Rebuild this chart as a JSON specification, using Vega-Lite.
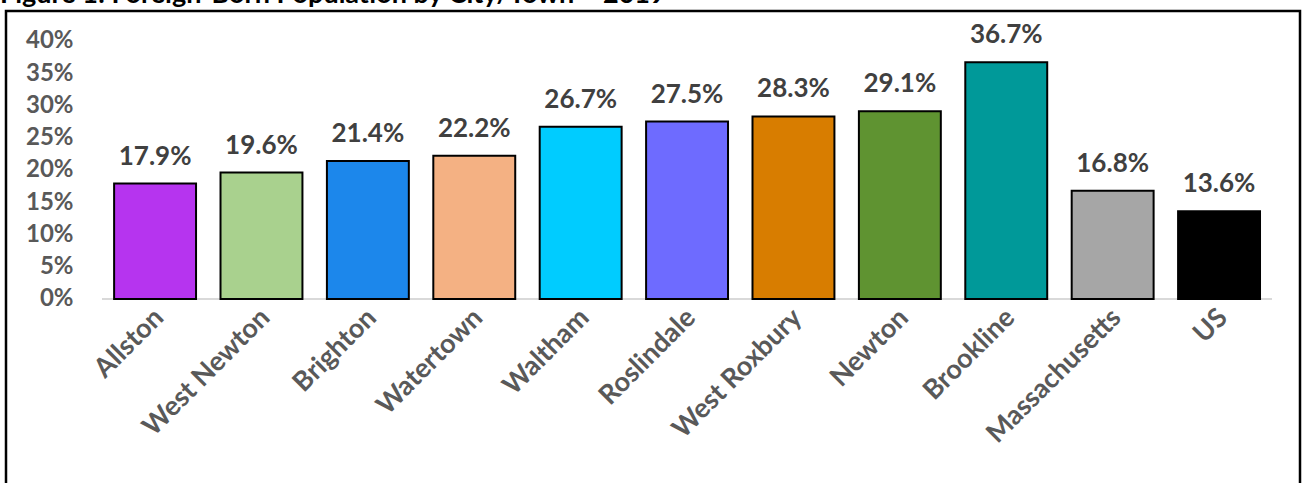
{
  "$schema": "https://vega.github.io/schema/vega-lite/v6.json",
  "autosize": "none",
  "width": 1294,
  "height": 474,
  "padding": {"left": 6, "top": 11, "right": 3, "bottom": -2},
  "background": "white",
  "title": {
    "text": "Figure 1: Foreign-Born Population by City/Town – 2019",
    "anchor": "start",
    "frame": "group",
    "font": "Lato",
    "fontSize": 27,
    "fontWeight": "bold",
    "color": "black",
    "baseline": "alphabetic",
    "offset": -19,
    "dx": -6
  },
  "config": {"view": {"stroke": "black", "strokeWidth": 2.5}, "font": "Lato"},
  "data": {
    "values": [
      {"place": "Allston", "pct": 0.179},
      {"place": "West Newton", "pct": 0.196},
      {"place": "Brighton", "pct": 0.214},
      {"place": "Watertown", "pct": 0.222},
      {"place": "Waltham", "pct": 0.267},
      {"place": "Roslindale", "pct": 0.275},
      {"place": "West Roxbury", "pct": 0.283},
      {"place": "Newton", "pct": 0.291},
      {"place": "Brookline", "pct": 0.367},
      {"place": "Massachusetts", "pct": 0.168},
      {"place": "US", "pct": 0.136}
    ]
  },
  "encoding": {
    "x": {
      "field": "place",
      "type": "nominal",
      "sort": null,
      "scale": {
        "domain": ["Allston", "West Newton", "Brighton", "Watertown", "Waltham", "Roslindale", "West Roxbury", "Newton", "Brookline", "Massachusetts", "US"],
        "paddingInner": 0.23,
        "paddingOuter": 0.696,
        "align": 0.73
      },
      "axis": {
        "title": null,
        "labelAngle": -45,
        "offset": -186,
        "domain": false,
        "ticks": false,
        "labelPadding": 5,
        "labelOffset": -5,
        "labelFont": "Lato",
        "labelFontSize": 27,
        "labelFontWeight": "bold",
        "labelColor": "#595959"
      }
    }
  },
  "layer": [
    {
      "mark": {"type": "rule", "color": "#d9d9d9", "strokeWidth": 2},
      "encoding": {
        "x": {"datum": "Allston", "bandPosition": -0.146},
        "x2": {"datum": "US", "bandPosition": 1.146},
        "y": {"datum": 0, "type": "quantitative"}
      }
    },
    {
      "mark": {"type": "bar", "stroke": "black", "strokeWidth": 2},
      "encoding": {
        "y": {
          "field": "pct",
          "type": "quantitative",
          "scale": {"domain": [-0.2884, 0.4465], "nice": false, "zero": false},
          "axis": {
            "title": null,
            "values": [0, 0.05, 0.1, 0.15, 0.2, 0.25, 0.3, 0.35, 0.4],
            "format": ".0%",
            "offset": -96,
            "domain": false,
            "ticks": false,
            "grid": false,
            "labelPadding": 29,
            "labelFont": "Lato",
            "labelFontSize": 24,
            "labelFontWeight": "bold",
            "labelColor": "#595959"
          }
        },
        "y2": {"datum": 0},
        "color": {
          "field": "place",
          "type": "nominal",
          "legend": null,
          "scale": {
            "domain": ["Allston", "West Newton", "Brighton", "Watertown", "Waltham", "Roslindale", "West Roxbury", "Newton", "Brookline", "Massachusetts", "US"],
            "range": ["#B634EF", "#A9D18E", "#1C87EB", "#F4B183", "#00CCFF", "#6E6BFF", "#D87D00", "#5F9331", "#009999", "#A6A6A6", "#000000"]
          }
        }
      }
    },
    {
      "mark": {"type": "text", "baseline": "alphabetic", "dy": -19, "font": "Lato", "fontSize": 26, "fontWeight": "bold", "color": "#404040"},
      "encoding": {
        "y": {"field": "pct", "type": "quantitative"},
        "text": {"field": "pct", "type": "quantitative", "format": ".1%"}
      }
    }
  ]
}
